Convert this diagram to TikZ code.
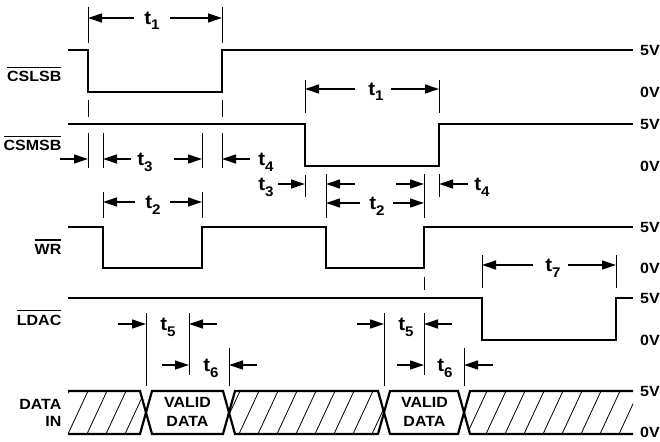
\documentclass[tikz,border=0pt]{standalone}
\usepackage{fontspec}
\setmainfont{Liberation Sans}[FakeStretch=1.08]
\usetikzlibrary{arrows.meta}
\newcommand\ovl[1]{\vbox{\hrule height 1.3pt\kern 3.2pt\hbox{#1}}}
\newcommand\tsub[1]{{\fontsize{19}{22}\selectfont t}\raisebox{-5.5pt}{\fontsize{14}{16}\selectfont #1}}
\begin{document}
\begin{tikzpicture}[x=1pt,y=-1pt,
  every node/.style={inner sep=0pt,font=\fontsize{14.8}{17}\selectfont\bfseries},
  sig/.style={line width=2.2pt,line join=miter},
  tick/.style={line width=0.9pt},
  dim/.style={line width=1.3pt,-{Triangle[length=14pt,width=9pt]}},
  hatchl/.style={line width=0.8pt},
  lvl/.style={anchor=west},
  sname/.style={anchor=base east},
  tl/.style={anchor=base}]
\useasboundingbox (0,0) rectangle (660,441);
\fill[white] (0,0) rectangle (660,441);

% signals
\draw[sig] (68,50) -- (88,50) -- (88,92) -- (222,92) -- (222,50) -- (633,50);
\draw[sig] (68,124) -- (305,124) -- (305,166) -- (439,166) -- (439,124) -- (633,124);
\draw[sig] (68,227) -- (103,227) -- (103,268) -- (202,268) -- (202,227) -- (326,227) -- (326,268) -- (424,268) -- (424,227) -- (633,227);
\draw[sig] (68,298) -- (482,298) -- (482,340) -- (616,340) -- (616,298) -- (633,298);

% data bus hatching
\foreach \reg in {
  {(68,391) -- (140,391) -- (146,412.5) -- (140,434) -- (68,434) -- cycle},
  {(229,412.5) -- (235,391) -- (378,391) -- (384,412.5) -- (378,434) -- (235,434) -- cycle},
  {(633,391) -- (470,391) -- (464,412.5) -- (470,434) -- (633,434) -- cycle}}{
  \begin{scope}
    \clip \reg;
    \foreach \x in {30,49,...,650} \draw[hatchl] (\x,434) -- ++(20,-43);
  \end{scope}
}
\draw[sig] (68,391) -- (140,391) -- (146,412.5) -- (140,434) -- (68,434);
\draw[sig] (146,412.5) -- (152,391) -- (223,391) -- (229,412.5) -- (223,434) -- (152,434) -- cycle;
\draw[sig] (229,412.5) -- (235,391) -- (378,391) -- (384,412.5) -- (378,434) -- (235,434) -- cycle;
\draw[sig] (384,412.5) -- (390,391) -- (458,391) -- (464,412.5) -- (458,434) -- (390,434) -- cycle;
\draw[sig] (633,391) -- (470,391) -- (464,412.5) -- (470,434) -- (633,434);

% signal names
\node[sname] (ncslsb) at (61.5,81.7) {\ovl{CSLSB}};
\node[sname] (ncsmsb) at (61.5,150.5) {\ovl{CSMSB}};
\node[sname] (nwr) at (61.5,254) {\ovl{WR}};
\node[sname] (nldac) at (61.5,325) {\ovl{LDAC}};
\node[sname] (ndata) at (61.5,409) {DATA};
\node[sname] (nin) at (61.5,426.7) {IN};
\node[tl] (v1a) at (187.5,407) {VALID};
\node[tl] (v1b) at (187.5,426) {DATA};
\node[tl] (v2a) at (424.5,407) {VALID};
\node[tl] (v2b) at (424.5,426) {DATA};

% levels
\foreach \y/\t [count=\i] in {50/5V,92/0V,124/5V,166/0V,227/5V,268/0V,298/5V,340/0V,391/5V,432/0V}
  \node[lvl] (lv\i) at (640,\y) {\t};

% t1 first
\draw[tick] (88,7) -- (88,43);
\draw[tick] (222,7) -- (222,43);
\draw[dim] (134,18) -- (88,18);
\draw[dim] (170,18) -- (222,18);
\node[tl] (ta1) at (152,24.5) {\tsub{1}};
\draw[tick] (88,100) -- (88,117);
\draw[tick] (222,100) -- (222,117);

% t1 second
\draw[tick] (305,80) -- (305,113);
\draw[tick] (439,80) -- (439,113);
\draw[dim] (355,89) -- (305,89);
\draw[dim] (391,89) -- (439,89);
\node[tl] (ta2) at (376,95.5) {\tsub{1}};

% t3/t4 first
\foreach \x in {88,103,202,222} \draw[tick] (\x,133) -- (\x,168);
\draw[dim] (60,159) -- (88,159);
\draw[dim] (131,159) -- (103,159);
\draw[dim] (174,159) -- (202,159);
\draw[dim] (250,159) -- (222,159);
\node[tl] (tc1) at (145,165.5) {\tsub{3}};
\node[tl] (td1) at (266,165.5) {\tsub{4}};

% t2 first
\draw[tick] (103,192) -- (103,218);
\draw[tick] (202,192) -- (202,218);
\draw[dim] (135,202) -- (103,202);
\draw[dim] (170,202) -- (202,202);
\node[tl] (tb1) at (153,208.5) {\tsub{2}};

% t3/t4 second
\draw[tick] (305,175) -- (305,197);
\draw[dim] (278,184) -- (305,184);
\node[tl] (tc2) at (266,190.5) {\tsub{3}};
\draw[tick] (326,174) -- (326,218);
\draw[tick] (424,174) -- (424,218);
\draw[tick] (439,174) -- (439,197);
\draw[dim] (355,184) -- (326,184);
\draw[dim] (396,184) -- (424,184);
\draw[dim] (468,184) -- (439,184);
\node[tl] (td2) at (482,190.5) {\tsub{4}};

% t2 second
\draw[dim] (360,203) -- (326,203);
\draw[dim] (393,203) -- (424,203);
\node[tl] (tb2) at (377,209.5) {\tsub{2}};

\draw[tick] (424,277) -- (424,290);

% t7
\draw[tick] (482,255) -- (482,288);
\draw[tick] (616,255) -- (616,288);
\draw[dim] (533,265) -- (482,265);
\draw[dim] (568,265) -- (616,265);
\node[tl] (tg) at (553,271.5) {\tsub{7}};

% t5/t6 first
\draw[tick] (146,313) -- (146,386);
\draw[tick] (189,313) -- (189,375);
\draw[tick] (229,348) -- (229,386);
\draw[dim] (118,324) -- (146,324);
\draw[dim] (217,324) -- (189,324);
\node[tl] (te1) at (168,330.5) {\tsub{5}};
\draw[dim] (162,365) -- (189,365);
\draw[dim] (257,365) -- (229,365);
\node[tl] (tf1) at (211,371.5) {\tsub{6}};

% t5/t6 second
\draw[tick] (384,313) -- (384,386);
\draw[tick] (424,313) -- (424,375);
\draw[tick] (464,348) -- (464,386);
\draw[dim] (357,324) -- (384,324);
\draw[dim] (452,324) -- (424,324);
\node[tl] (te2) at (406,330.5) {\tsub{5}};
\draw[dim] (397,365) -- (424,365);
\draw[dim] (493,365) -- (464,365);
\node[tl] (tf2) at (445,371.5) {\tsub{6}};
\end{tikzpicture}
\end{document}
